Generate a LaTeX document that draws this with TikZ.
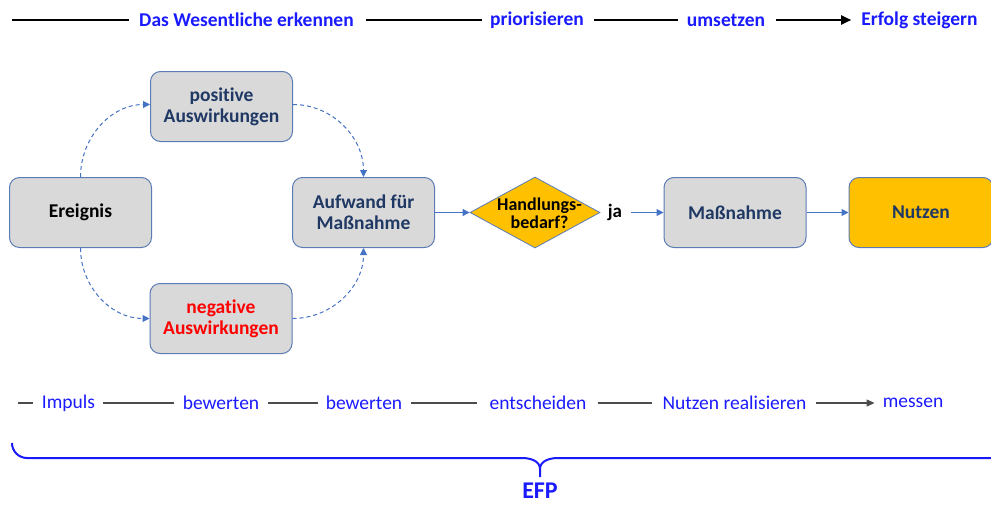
\documentclass[tikz,border=0pt]{standalone}
\usepackage{fontspec}
\setmainfont{Carlito}[Ligatures=CommonOff]
\usetikzlibrary{shapes.geometric,arrows.meta}
\definecolor{boxfill}{HTML}{D9D9D9}
\definecolor{boxline}{HTML}{5B7BB5}
\definecolor{navy}{HTML}{1F3864}
\definecolor{arr}{HTML}{4472C4}
\definecolor{gold}{HTML}{FFC000}
\definecolor{txtblue}{HTML}{1A1AFF}
\begin{document}
\begin{tikzpicture}[x=1pt,y=-1pt,
  box/.style={draw=boxline,line width=1pt,fill=boxfill,rounded corners=10pt,minimum width=142pt,minimum height=70pt,align=center,font=\fontsize{19.5}{21}\selectfont\bfseries,text=navy},
  dia/.style={diamond,draw=boxline,line width=0.8pt,fill=gold,aspect=1.83,minimum width=130pt,minimum height=71pt,inner sep=0pt},
  diatxt/.style={align=center,font=\fontsize{18}{18}\selectfont\bfseries,text=black,inner sep=0pt},
  flow/.style={draw=arr,line width=1pt,-{Triangle[length=7pt,width=7pt]}},
  dflow/.style={draw=arr,line width=1pt,dashed,dash pattern=on 4pt off 3pt,-{Triangle[length=7pt,width=7pt]}},
  toptxt/.style={text=txtblue,font=\fontsize{19.5}{22}\selectfont\bfseries,inner sep=0pt},
  bottxt/.style={text=txtblue,font=\fontsize{19.5}{22}\selectfont,inner sep=0pt},
  topline/.style={draw=black,line width=2pt},
  botline/.style={draw=black!70,line width=1.2pt}]
\useasboundingbox (0,0) rectangle (991,506);
% top row
\coordinate (t0) at (12,20);
\node[toptxt] (t1) at (246.5,20) {Das Wesentliche erkennen};
\node[toptxt] (t2) at (537,20) {priorisieren};
\node[toptxt] (t3) at (726,20) {umsetzen};
\node[toptxt] (t4) at (919.5,20) {Erfolg steigern};
\draw[topline] (t0) -- ([xshift=-10pt]t1.west);
\draw[topline] ([xshift=12pt]t1.east) -- ([xshift=-8pt]t2.west);
\draw[topline] ([xshift=10pt]t2.east) -- ([xshift=-9pt]t3.west);
\draw[topline,-{Triangle[length=10pt,width=9pt]}] ([xshift=11pt]t3.east) -- ([xshift=-10pt]t4.west);
% boxes
\node[box,text=black] (ereignis) at (80.5,212.5) {Ereignis};
\node[box] (pos) at (221.5,106.5) {positive\\Auswirkungen};
\node[box,text=red] (neg) at (221,318.5) {negative\\Auswirkungen};
\node[box] (aufwand) at (363.5,212.5) {Aufwand für\\Maßnahme};
\node[dia] (hb) at (535,212.5) {};
\node[diatxt] (hbt) at (539.5,213) {Handlungs-\\bedarf?};
\node[font=\fontsize{19}{22}\selectfont\bfseries,inner sep=1pt] (ja) at (615,212.5) {ja};
\node[box] (mass) at (735,212.5) {Maßnahme};
\node[box,fill=gold,minimum width=144pt] (nutzen) at (921,212.5) {Nutzen};
% arrows
\draw[flow] (aufwand.east) -- (hb.west);
\draw[flow] ([xshift=8pt]ja.east) -- (mass.west);
\draw[flow] (mass.east) -- (nutzen.west);
\draw[dflow] (ereignis.north) to[out=90,in=180] ([yshift=2pt]pos.west);
\draw[dflow] ([yshift=2pt]pos.east) to[out=0,in=90] (aufwand.north);
\draw[dflow] (ereignis.south) to[out=-90,in=180] (neg.west);
\draw[dflow] (neg.east) to[out=0,in=-90] (aufwand.south);
% bottom row
\coordinate (b0) at (18,403);
\node[bottxt] (b1) at (68.5,403) {Impuls};
\node[bottxt] (b2) at (221,403) {bewerten};
\node[bottxt] (b3) at (364,403) {bewerten};
\node[bottxt] (b4) at (538,403) {entscheiden};
\node[bottxt] (b5) at (734.5,403) {Nutzen realisieren};
\node[bottxt] (b6) at (913,403) {messen};
\draw[botline] (b0) -- ([xshift=-9pt]b1.west);
\draw[botline] ([xshift=8pt]b1.east) -- ([xshift=-9pt]b2.west);
\draw[botline] ([xshift=9pt]b2.east) -- ([xshift=-8pt]b3.west);
\draw[botline] ([xshift=9pt]b3.east) -- ([xshift=-12pt]b4.west);
\draw[botline] ([xshift=11pt]b4.east) -- ([xshift=-10pt]b5.west);
\draw[botline,-{Triangle[length=8pt,width=7pt]}] ([xshift=9pt]b5.east) -- ([xshift=-8pt]b6.west);
% brace
\coordinate (bl) at (12,443);
\coordinate (bt) at (540,477);
\coordinate (br) at (991,458);
\draw[txtblue,line width=2pt] (bl) to[out=-90,in=180] (27,458) -- (522,458) to[out=0,in=90] (540,469) -- (bt);
\draw[txtblue,line width=2pt] (540,469) to[out=90,in=180] (558,458) -- (br);
\node[text=txtblue,font=\fontsize{24}{26}\selectfont\bfseries,inner sep=0pt] (efp) at (540,491) {EFP};
\end{tikzpicture}
\end{document}
